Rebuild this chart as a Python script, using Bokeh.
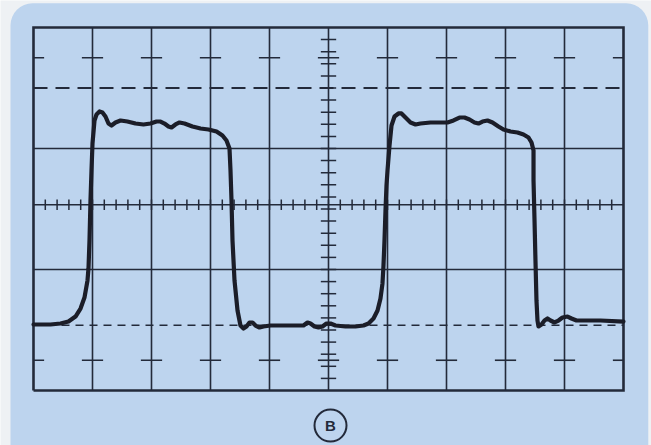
from bokeh.plotting import figure
from bokeh.models import Range1d, BoxAnnotation
from bokeh.embed import file_html
from bokeh.resources import INLINE
from bokeh.core.properties import value

# ---------------- data (in graticule divisions) ----------------
# graticule: 10 horizontal divisions, 6 vertical divisions
x_divs = [0, 1, 2, 3, 4, 5, 6, 7, 8, 9, 10]
y_solid = [0, 2, 3.07, 4, 6]
y_dash_upper = 5.0
y_dash_lower = 1.08
half_div_rows = [0.5, 5.5]
center_x = 5.0
center_y = 3.07

# trace: two square pulses (time in divisions, amplitude in divisions)
trace_t = [0.000, 0.288, 0.458, 0.593, 0.712, 0.797, 0.864, 0.915, 0.932, 0.949,
           0.966, 0.983, 1.000, 1.034, 1.068, 1.119, 1.169, 1.220, 1.271, 1.322,
           1.390, 1.475, 1.593, 1.729, 1.864, 1.983, 2.085, 2.153, 2.220, 2.288,
           2.339, 2.407, 2.475, 2.559, 2.695, 2.831, 2.966, 3.102, 3.203, 3.271,
           3.322, 3.339, 3.356, 3.373, 3.407, 3.458, 3.508, 3.559, 3.610, 3.661,
           3.712, 3.763, 3.831, 3.898, 4.017, 4.186, 4.441, 4.576, 4.644, 4.695,
           4.763, 4.831, 4.898, 4.966, 5.034, 5.119, 5.288, 5.458, 5.593, 5.678,
           5.763, 5.831, 5.881, 5.915, 5.932, 5.949, 5.966, 5.983, 6.000, 6.034,
           6.068, 6.119, 6.186, 6.237, 6.305, 6.390, 6.475, 6.559, 6.729, 6.898,
           7.017, 7.119, 7.220, 7.305, 7.390, 7.475, 7.542, 7.610, 7.695, 7.780,
           7.881, 7.966, 8.085, 8.203, 8.305, 8.390, 8.441, 8.475, 8.475, 8.492,
           8.508, 8.525, 8.542, 8.559, 8.610, 8.661, 8.712, 8.763, 8.831, 8.898,
           8.966, 9.051, 9.119, 9.203, 9.356, 9.610, 10.000]
trace_v = [1.091, 1.091, 1.107, 1.140, 1.223, 1.355, 1.537, 1.818, 2.017, 2.479,
           3.140, 3.636, 4.083, 4.463, 4.562, 4.612, 4.595, 4.529, 4.413, 4.380,
           4.430, 4.463, 4.446, 4.413, 4.397, 4.413, 4.446, 4.446, 4.413, 4.364,
           4.347, 4.397, 4.430, 4.413, 4.364, 4.331, 4.314, 4.281, 4.215, 4.132,
           4.000, 3.636, 3.140, 2.479, 1.818, 1.322, 1.074, 1.025, 1.058, 1.124,
           1.124, 1.074, 1.041, 1.058, 1.074, 1.074, 1.074, 1.074, 1.124, 1.107,
           1.058, 1.041, 1.058, 1.107, 1.107, 1.074, 1.058, 1.058, 1.074, 1.107,
           1.190, 1.322, 1.521, 1.769, 2.066, 2.479, 2.975, 3.388, 3.636, 4.050,
           4.380, 4.529, 4.579, 4.579, 4.512, 4.430, 4.397, 4.413, 4.430, 4.430,
           4.430, 4.463, 4.512, 4.512, 4.479, 4.430, 4.413, 4.446, 4.463, 4.430,
           4.364, 4.314, 4.281, 4.264, 4.231, 4.182, 4.099, 3.967, 3.471, 2.810,
           2.149, 1.488, 1.157, 1.058, 1.091, 1.157, 1.190, 1.157, 1.124, 1.157,
           1.207, 1.223, 1.190, 1.157, 1.157, 1.157, 1.140]

label_text = "B"

# ---------------- styles ----------------
BLUE = "#bdd4ee"
PAPER = "#eef1f4"
GRID = "#232a3a"
TRACE = "#1b1d28"

p = figure(width=651, height=445, output_backend="svg", toolbar_location=None,
           x_axis_location=None, y_axis_location=None,
           x_range=Range1d(-0.5593, 10.4746), y_range=Range1d(-0.9091, 6.4463),
           min_border=0, background_fill_color=PAPER, border_fill_color=PAPER,
           outline_line_color=None)
p.grid.visible = False

# the blue card behind the graticule (rounded corners)
card = BoxAnnotation(left=-0.39, right=10.42, top=6.40, bottom=-1.5,
                     fill_color=BLUE, fill_alpha=1.0, line_color=None,
                     border_radius=22, level="underlay")
p.add_layout(card)

# vertical division lines
inner_x = x_divs[1:-1]
p.segment(x0=inner_x, y0=[0] * len(inner_x), x1=inner_x, y1=[6] * len(inner_x),
          line_color=GRID, line_width=1.6)
# horizontal solid lines
inner_y = y_solid[1:-1]
p.segment(x0=[0] * len(inner_y), y0=inner_y, x1=[10] * len(inner_y), y1=inner_y,
          line_color=GRID, line_width=1.6)

# dashed reference lines
p.line([0, 10], [y_dash_upper, y_dash_upper], line_color=GRID, line_width=1.8,
       line_dash="14 8")
p.line([0, 10], [y_dash_lower, y_dash_lower], line_color=GRID, line_width=1.5,
       line_dash="8 6")

# half-division marks on every vertical line
for row in half_div_rows:
    x0 = [max(0, x - 0.18) for x in x_divs]
    x1 = [min(10, x + 0.18) for x in x_divs]
    p.segment(x0=x0, y0=[row] * len(x0), x1=x1, y1=[row] * len(x0),
              line_color=GRID, line_width=1.6)

# minor ticks along centre vertical line
ys = [i * 0.2 for i in range(1, 30)]
p.segment(x0=[center_x - 0.13] * len(ys), y0=ys, x1=[center_x + 0.13] * len(ys), y1=ys,
          line_color=GRID, line_width=1.5)
# minor ticks along centre horizontal line
xs = [i * 0.2 for i in range(1, 50)]
p.segment(x0=xs, y0=[center_y - 0.085] * len(xs), x1=xs, y1=[center_y + 0.085] * len(xs),
          line_color=GRID, line_width=1.5)

# outer frame
p.line([0, 10, 10, 0, 0], [0, 0, 6, 6, 0], line_color=GRID, line_width=2.6,
       line_join="miter")

# trace
p.line(trace_t, trace_v, line_color=TRACE, line_width=4.2, line_join="round",
       line_cap="round")

# circled label
p.scatter([5.034], [-0.579], marker="circle", size=32, fill_color=None,
          line_color=GRID, line_width=2)
p.text([5.034], [-0.579], text=[label_text], text_align="center",
       text_baseline="middle", text_font=value("Liberation Sans"),
       text_font_style="bold", text_font_size="15px", text_color=GRID)

open("out.html", "w").write(file_html(p, INLINE))
